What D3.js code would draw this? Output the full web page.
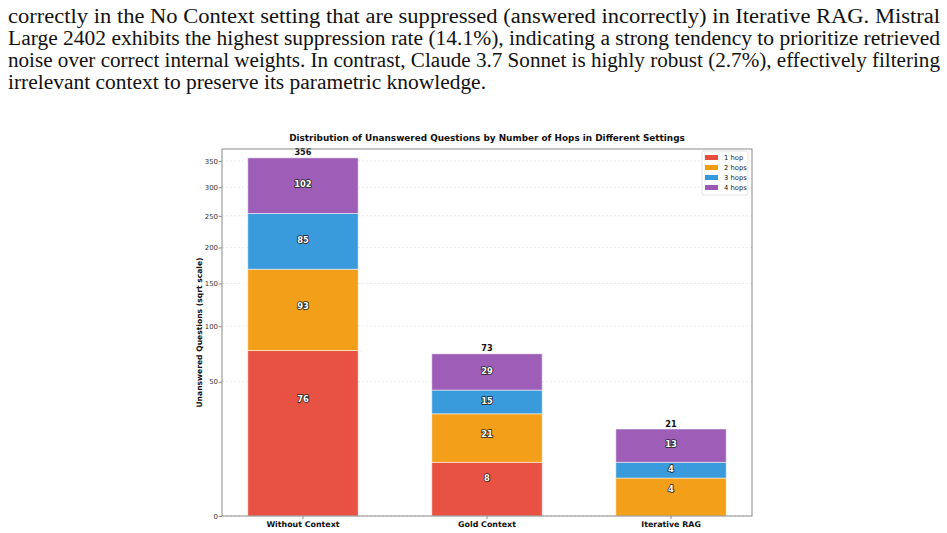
<!DOCTYPE html>
<html>
<head>
<meta charset="utf-8">
<script src="https://cdn.jsdelivr.net/npm/d3@7"></script>
<style>
  body { margin: 0; background: #fff; }
  svg { display: block; }
</style>
</head>
<body>
<script>
// paragraph lines above the figure (last line is not justified)
const paragraphLines = [
  'correctly in the No Context setting that are suppressed (answered incorrectly) in Iterative RAG. Mistral',
  'Large 2402 exhibits the highest suppression rate (14.1%), indicating a strong tendency to prioritize retrieved',
  'noise over correct internal weights. In contrast, Claude 3.7 Sonnet is highly robust (2.7%), effectively filtering',
  'irrelevant context to preserve its parametric knowledge.'
];
const lineWidths = [932, 932, 932, 478];

// chart data
const settings = ['Without Context', 'Gold Context', 'Iterative RAG'];
const hopNames = ['1 hop', '2 hops', '3 hops', '4 hops'];
const hop1 = [76, 8, 0];
const hop2 = [93, 21, 4];
const hop3 = [85, 15, 4];
const hop4 = [102, 29, 13];
const yTicks = [0, 50, 100, 150, 200, 250, 300, 350];
const hopColors = ['#e74c3c', '#f39c12', '#3498db', '#9b59b6'];

const width = 947;
const height = 533;

const svg = d3.select('body')
  .append('svg')
  .attr('width', width)
  .attr('height', height);

// --- paragraph text
const textG = svg.append('g')
  .attr('font-family', '"Liberation Serif", "DejaVu Serif", serif')
  .attr('font-size', 20.5)
  .attr('fill', '#111');

textG.selectAll('text')
  .data(paragraphLines)
  .enter()
  .append('text')
  .attr('x', 8)
  .attr('y', (d, i) => 22.5 + i * 22.3)
  .attr('textLength', (d, i) => lineWidths[i])
  .attr('lengthAdjust', 'spacingAndGlyphs')
  .text(d => d);

// --- chart
const margin = { left: 222, right: 752, top: 149, bottom: 516 };

const rows = settings.map((s, i) => ({
  setting: s,
  '1 hop': hop1[i],
  '2 hops': hop2[i],
  '3 hops': hop3[i],
  '4 hops': hop4[i]
}));
const totals = settings.map((s, i) => hop1[i] + hop2[i] + hop3[i] + hop4[i]);

const stacked = d3.stack().keys(hopNames)(rows);

const x = d3.scaleBand()
  .domain(settings)
  .range([margin.left, margin.right])
  .paddingInner(0.4)
  .paddingOuter(0.14);

const y = d3.scaleSqrt()
  .domain([0, d3.max(totals) * 1.05])
  .range([margin.bottom, margin.top]);

const color = d3.scaleOrdinal().domain(hopNames).range(hopColors);

const chart = svg.append('g').attr('font-family', '"DejaVu Sans", sans-serif');

// grid lines
chart.append('g')
  .selectAll('line')
  .data(yTicks)
  .enter()
  .append('line')
  .attr('x1', margin.left)
  .attr('x2', margin.right)
  .attr('y1', d => y(d))
  .attr('y2', d => y(d))
  .attr('stroke', '#c8c8c8')
  .attr('stroke-width', 0.6)
  .attr('stroke-dasharray', '2,2')
  .attr('opacity', 0.6);

// bars
const layers = chart.append('g')
  .selectAll('g')
  .data(stacked)
  .enter()
  .append('g')
  .attr('fill', d => color(d.key));

layers.selectAll('rect')
  .data(d => d.filter(p => p[1] > p[0]))
  .enter()
  .append('rect')
  .attr('x', d => x(d.data.setting))
  .attr('width', x.bandwidth())
  .attr('y', d => y(d[1]))
  .attr('height', d => y(d[0]) - y(d[1]))
  .attr('stroke', '#fff')
  .attr('stroke-opacity', 0.5)
  .attr('stroke-width', 1)
  .attr('fill-opacity', 0.97);

// segment labels
const segLabels = [];
stacked.forEach(layer => {
  layer.forEach(p => {
    const v = p[1] - p[0];
    if (v > 0) segLabels.push({ setting: p.data.setting, v: v, mid: p[0] + v / 2 });
  });
});

chart.append('g')
  .selectAll('text')
  .data(segLabels)
  .enter()
  .append('text')
  .attr('x', d => x(d.setting) + x.bandwidth() / 2)
  .attr('y', d => y(d.mid))
  .attr('dy', '0.35em')
  .attr('text-anchor', 'middle')
  .attr('font-size', 8.4)
  .attr('font-weight', 'bold')
  .attr('fill', '#fff')
  .attr('stroke', '#222')
  .attr('stroke-width', 1.6)
  .attr('paint-order', 'stroke')
  .text(d => d.v);

// totals above bars
chart.append('g')
  .selectAll('text')
  .data(totals)
  .enter()
  .append('text')
  .attr('x', (d, i) => x(settings[i]) + x.bandwidth() / 2)
  .attr('y', d => y(d) - 2.5)
  .attr('text-anchor', 'middle')
  .attr('font-size', 8.2)
  .attr('font-weight', 'bold')
  .attr('fill', '#111')
  .text(d => d);

// frame
chart.append('rect')
  .attr('x', margin.left)
  .attr('y', margin.top)
  .attr('width', margin.right - margin.left)
  .attr('height', margin.bottom - margin.top)
  .attr('fill', 'none')
  .attr('stroke', '#8a8a8a')
  .attr('stroke-width', 1);

// axes
const yAxis = chart.append('g')
  .attr('transform', `translate(${margin.left},0)`)
  .call(d3.axisLeft(y).tickValues(yTicks).tickSize(3.5).tickSizeOuter(0).tickPadding(0.5));
yAxis.select('.domain').remove();
yAxis.selectAll('line').attr('stroke', '#8a8a8a');
yAxis.selectAll('text').attr('font-size', 6.9).attr('fill', '#333').attr('font-family', '"DejaVu Sans", sans-serif');

const xAxis = chart.append('g')
  .attr('transform', `translate(0,${margin.bottom})`)
  .call(d3.axisBottom(x).tickSize(3).tickSizeOuter(0).tickPadding(2));
xAxis.select('.domain').remove();
xAxis.selectAll('line').attr('stroke', '#8a8a8a');
xAxis.selectAll('text')
  .attr('font-size', 7.9)
  .attr('font-weight', 'bold')
  .attr('fill', '#111')
  .attr('font-family', '"DejaVu Sans", sans-serif');

// title
chart.append('text')
  .attr('x', (margin.left + margin.right) / 2)
  .attr('y', 141)
  .attr('text-anchor', 'middle')
  .attr('font-size', 8.9)
  .attr('font-weight', 'bold')
  .attr('fill', '#111')
  .text('Distribution of Unanswered Questions by Number of Hops in Different Settings');

// y label
chart.append('text')
  .attr('transform', `translate(202,${(margin.top + margin.bottom) / 2}) rotate(-90)`)
  .attr('text-anchor', 'middle')
  .attr('font-size', 7.6)
  .attr('font-weight', 'bold')
  .attr('fill', '#111')
  .text('Unanswered Questions (sqrt scale)');

// legend
const legend = chart.append('g').attr('transform', 'translate(702,151)');
legend.append('rect')
  .attr('width', 46)
  .attr('height', 44)
  .attr('rx', 2)
  .attr('fill', '#fff')
  .attr('fill-opacity', 0.8)
  .attr('stroke', '#ddd')
  .attr('stroke-width', 0.8);

const items = legend.selectAll('g.item')
  .data(hopNames)
  .enter()
  .append('g')
  .attr('class', 'item')
  .attr('transform', (d, i) => `translate(3,${4 + i * 10})`);

items.append('rect')
  .attr('width', 13)
  .attr('height', 5)
  .attr('fill', d => color(d));

items.append('text')
  .attr('x', 19)
  .attr('y', 2.5)
  .attr('dy', '0.35em')
  .attr('font-size', 6.8)
  .attr('fill', '#222')
  .text(d => d);
</script>
</body>
</html>
